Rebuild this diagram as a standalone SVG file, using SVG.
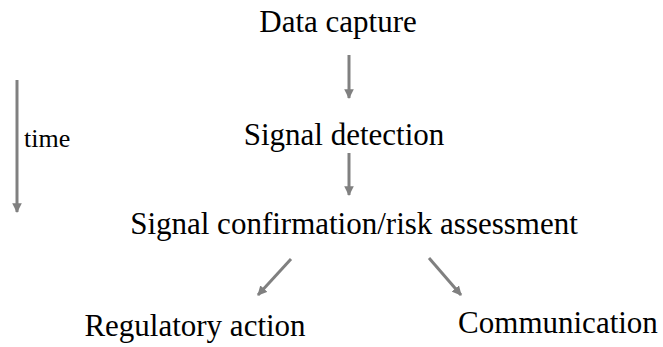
<svg xmlns="http://www.w3.org/2000/svg" width="663" height="347" viewBox="0 0 663 347">
<style>
text{font-family:"Liberation Serif","Times New Roman",serif;fill:#000}
.n{font-size:31px;text-anchor:middle}
.t{font-size:26px}
.c line{stroke:#808080;stroke-width:3}
</style>
<defs>
<marker id="ah" viewBox="0 0 10 10" refX="9" refY="5" markerWidth="3.2" markerHeight="3.2" orient="auto" markerUnits="strokeWidth">
<path d="M0,0 L10,5 L0,10 z" fill="#808080"/>
</marker>
</defs>
<rect width="663" height="347" fill="#fff"/>
<g class="c" id="connectors">
<line x1="17" y1="80" x2="17" y2="212" marker-end="url(#ah)"/>
<line x1="349" y1="55" x2="349" y2="98" marker-end="url(#ah)"/>
<line x1="349" y1="153" x2="349" y2="195" marker-end="url(#ah)"/>
<line x1="291" y1="259" x2="258" y2="295" marker-end="url(#ah)"/>
<line x1="429" y1="258" x2="461" y2="295" marker-end="url(#ah)"/>
</g>
<g id="time"><text class="t" x="24" y="147">time</text></g>
<g id="n1"><text class="n" x="338" y="32">Data capture</text></g>
<g id="n2"><text class="n" x="344" y="145">Signal detection</text></g>
<g id="n3"><text class="n" x="354" y="234">Signal confirmation/risk assessment</text></g>
<g id="n4"><text class="n" x="195" y="336">Regulatory action</text></g>
<g id="n5"><text class="n" x="558" y="333">Communication</text></g>
</svg>
